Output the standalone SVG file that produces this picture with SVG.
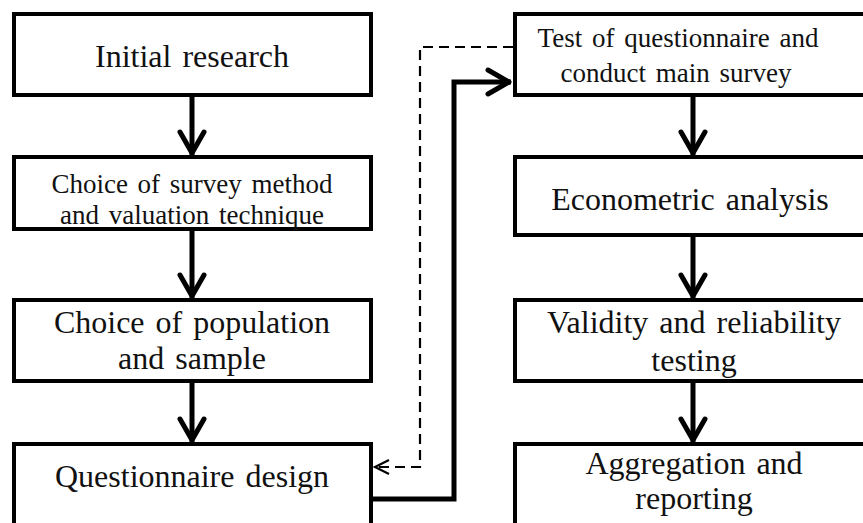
<svg xmlns="http://www.w3.org/2000/svg" width="863" height="523" viewBox="0 0 863 523">
  <style>
    .box { fill: #ffffff; stroke: #000000; stroke-width: 4; }
    .t { font-family: "Liberation Serif", "Times New Roman", serif; fill: #111111; text-anchor: middle; word-spacing: 3px; }
    .big { font-size: 32px; }
    .small { font-size: 27px; }
    .solid { fill: none; stroke: #000000; stroke-width: 5; stroke-linejoin: miter; }
    .dash { fill: none; stroke: #000000; stroke-width: 2.2; stroke-dasharray: 10 6; }
  </style>
  <defs>
    <marker id="headBig" markerUnits="userSpaceOnUse" viewBox="-35 -20 40 40" markerWidth="40" markerHeight="40" refX="0" refY="0" orient="auto">
      <path d="M-23,-12 L-2,0 L-23,12" fill="none" stroke="#000" stroke-width="5" stroke-linejoin="round" stroke-linecap="round"/>
    </marker>
    <marker id="headSmall" markerUnits="userSpaceOnUse" viewBox="-20 -10 24 20" markerWidth="24" markerHeight="20" refX="0" refY="0" orient="auto">
      <path d="M-15,-7 L-1,0 L-15,7" fill="none" stroke="#000" stroke-width="2.2"/>
    </marker>
  </defs>
  <rect width="863" height="523" fill="#ffffff"/>

  <g id="connectors">
    <line class="solid" x1="192" y1="97" x2="192" y2="155" marker-end="url(#headBig)"/>
    <line class="solid" x1="192" y1="231" x2="192" y2="298" marker-end="url(#headBig)"/>
    <line class="solid" x1="192" y1="383" x2="192" y2="442" marker-end="url(#headBig)"/>
    <line class="solid" x1="693" y1="97" x2="693" y2="155" marker-end="url(#headBig)"/>
    <line class="solid" x1="693" y1="237" x2="693" y2="298" marker-end="url(#headBig)"/>
    <line class="solid" x1="693" y1="383" x2="693" y2="442" marker-end="url(#headBig)"/>
    <polyline class="solid" points="372,499 454,499 454,82 511,82" marker-end="url(#headBig)"/>
    <polyline class="dash" points="513,47 420,47 420,467 374,467" marker-end="url(#headSmall)"/>
  </g>

  <g id="initial-research">
    <rect class="box" x="14" y="14" width="357" height="81"/>
    <text class="t big" x="192" y="67">Initial research</text>
  </g>
  <g id="choice-survey-method">
    <rect class="box" x="14" y="157" width="357" height="72"/>
    <text class="t small" x="192" y="193">Choice of survey method</text>
    <text class="t small" x="192" y="224">and valuation technique</text>
  </g>
  <g id="choice-population">
    <rect class="box" x="14" y="300" width="357" height="81"/>
    <text class="t big" x="192" y="333">Choice of population</text>
    <text class="t big" x="192" y="369">and sample</text>
  </g>
  <g id="questionnaire-design">
    <rect class="box" x="14" y="444" width="357" height="100"/>
    <text class="t big" x="192" y="487">Questionnaire design</text>
  </g>

  <g id="test-questionnaire">
    <rect class="box" x="515" y="14" width="400" height="81"/>
    <text class="t small" x="678" y="47">Test of questionnaire and</text>
    <text class="t small" x="676" y="82">conduct main survey</text>
  </g>
  <g id="econometric-analysis">
    <rect class="box" x="515" y="157" width="400" height="78"/>
    <text class="t big" x="690" y="210">Econometric analysis</text>
  </g>
  <g id="validity-reliability">
    <rect class="box" x="515" y="300" width="400" height="81"/>
    <text class="t big" x="694" y="333">Validity and reliability</text>
    <text class="t big" x="694" y="371">testing</text>
  </g>
  <g id="aggregation-reporting">
    <rect class="box" x="515" y="444" width="400" height="100"/>
    <text class="t big" x="694" y="474">Aggregation and</text>
    <text class="t big" x="694" y="509">reporting</text>
  </g>
</svg>
